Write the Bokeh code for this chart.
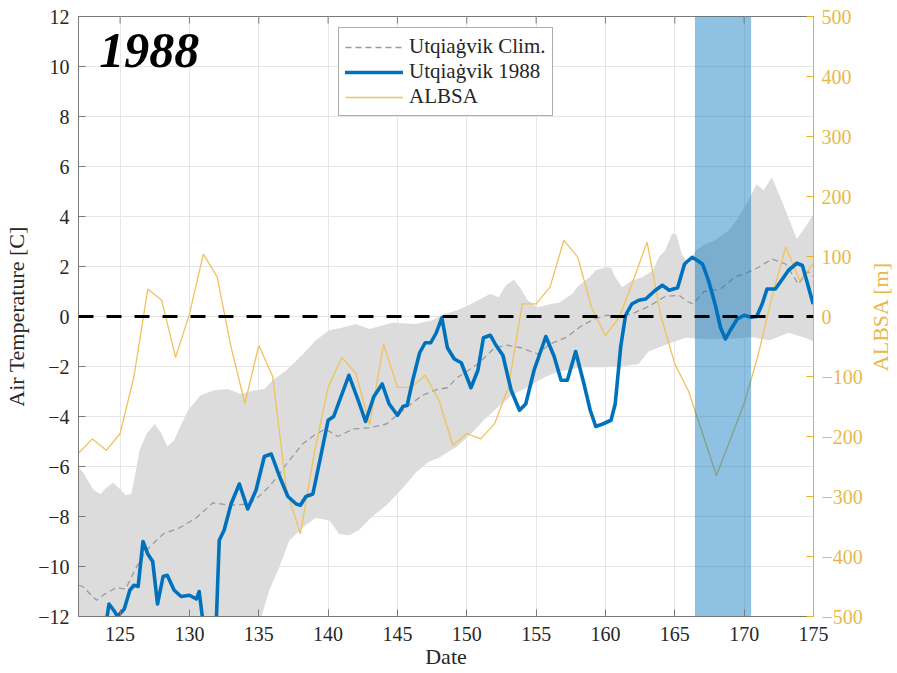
import math
from bokeh.plotting import figure
from bokeh.layouts import row
from bokeh.models import (Range1d, LinearAxis, Span, Legend, LegendItem, Label,
                          FixedTicker)
from bokeh.embed import file_html
from bokeh.resources import INLINE

# ---------------- data ----------------
x_ticks = [125, 130, 135, 140, 145, 150, 155, 160, 165, 170, 175]
y_ticks = [-12, -10, -8, -6, -4, -2, 0, 2, 4, 6, 8, 10, 12]
albsa_ticks = [-500, -400, -300, -200, -100, 0, 100, 200, 300, 400, 500]
x_limits = [122, 175]
temp_limits = [-12, 12]
albsa_limits = [-500, 500]
zero_level = 0
event_days = [166.45, 170.5]

obs_day = [123.9, 124.2, 124.6, 124.8, 125.3, 125.7, 126.0, 126.3, 126.65, 127.0,
           127.35, 127.7, 128.1, 128.4, 128.9, 129.4, 130.0, 130.5, 130.7, 130.95,
           131.3, 131.7, 131.95, 132.15, 132.5, 133.0, 133.6, 134.2, 134.8, 135.4,
           135.9, 136.5, 137.1, 137.7, 138.0, 138.4, 138.9, 139.5, 140.0, 140.4,
           141.0, 141.5, 142.2, 142.7, 143.3, 143.9, 144.4, 145.0, 145.4, 145.7,
           146.1, 146.6, 147.0, 147.4, 147.8, 148.2, 148.6, 149.1, 149.6, 150.3,
           150.8, 151.2, 151.7, 152.1, 152.6, 153.2, 153.8, 154.25, 154.85, 155.7,
           156.3, 156.8, 157.25, 157.85, 158.45, 158.9, 159.3, 159.8, 160.4, 160.7,
           161.1, 161.45, 161.9, 162.4, 162.9, 163.6, 164.1, 164.6, 165.2, 165.7,
           166.25, 166.6, 167.0, 167.45, 167.9, 168.3, 168.65, 169.0, 169.5, 170.0,
           170.5, 170.9, 171.3, 171.65, 172.25, 172.7, 173.2, 173.8, 174.2, 174.5,
           174.95]
obs_temp = [-12.6, -11.5, -11.8, -12.0, -11.7, -10.95, -10.75, -10.8, -9.0, -9.5,
            -9.8, -11.5, -10.4, -10.35, -10.95, -11.2, -11.15, -11.3, -11.0, -12.1,
            -13.0, -13.0, -12.0, -8.95, -8.55, -7.5, -6.7, -7.7, -6.95, -5.6,
            -5.5, -6.4, -7.2, -7.5, -7.55, -7.2, -7.1, -5.5, -4.15, -4.0,
            -3.1, -2.35, -3.4, -4.2, -3.2, -2.7, -3.5, -3.95, -3.6, -3.55,
            -2.55, -1.45, -1.05, -1.05, -0.65, -0.05, -1.25, -1.7, -1.85, -2.85,
            -2.15, -0.85, -0.75, -1.15, -1.55, -2.95, -3.75, -3.5, -2.15, -0.8,
            -1.6, -2.55, -2.55, -1.4, -2.7, -3.75, -4.4, -4.3, -4.15, -3.5,
            -1.2, 0.05, 0.5, 0.65, 0.7, 1.05, 1.25, 1.05, 1.15, 2.1,
            2.37, 2.25, 2.1, 1.4, 0.5, -0.45, -0.9, -0.55, -0.1, 0.05,
            -0.03, 0.0, 0.5, 1.1, 1.1, 1.45, 1.85, 2.13, 2.04, 1.45,
            0.55]

clim_day = [122.0, 122.3, 123.3, 123.9, 124.7, 125.4, 126.2, 126.9, 128.1, 129.3,
            130.5, 131.7, 132.9, 134.3, 135.0, 135.75, 136.5, 137.0, 138.15, 139.0,
            139.8, 140.7, 141.8, 143.0, 144.2, 145.5, 146.8, 147.8, 148.6, 149.3,
            150.8, 152.0, 152.9, 153.9, 155.1, 156.0, 157.2, 158.2, 159.2, 160.1,
            161.0, 161.9, 163.1, 164.3, 165.3, 165.9, 166.3, 167.1, 168.3, 169.4,
            170.2, 171.05, 172.0, 173.0, 173.9, 174.6, 175.0]
clim_temp = [-10.75, -10.8, -11.35, -11.1, -10.85, -10.9, -10.0, -9.35, -8.7, -8.45,
             -8.05, -7.45, -7.55, -7.5, -7.2, -6.8, -6.3, -5.9, -5.1, -4.75,
             -4.5, -4.8, -4.5, -4.45, -4.3, -3.7, -3.15, -2.93, -2.85, -2.45,
             -1.9, -1.25, -1.15, -1.25, -1.5, -1.1, -0.83, -0.4, -0.1, 0.05,
             0.0, 0.1, 0.4, 0.8, 0.85, 0.6, 0.5, 1.0, 1.1, 1.6,
             1.75, 1.97, 2.3, 2.1, 1.3, 1.8, 1.6]

upper_day = [122.0, 122.4, 123.1, 123.6, 124.0, 124.5, 124.9, 125.4, 125.8, 126.1,
             126.4, 126.9, 127.5, 128.0, 128.4, 128.9, 129.3, 129.9, 130.8, 131.8,
             132.75, 133.7, 134.7, 135.4, 136.0, 137.0, 138.2, 139.1, 140.1, 141.0,
             142.0, 143.0, 144.6, 146.3, 147.5, 148.4, 149.3, 150.3, 151.2, 151.7,
             152.3, 152.8, 153.4, 153.9, 154.4, 155.1, 156.05, 156.65, 157.6, 158.0,
             158.9, 159.3, 160.0, 160.4, 160.7, 161.2, 161.9, 162.65, 163.4, 163.85,
             164.3, 164.8, 165.1, 165.5, 166.0, 166.5, 167.2, 167.9, 168.9, 169.6,
             170.3, 170.9, 171.4, 172.0, 172.7, 173.3, 173.8, 174.4, 175.0]
upper_temp = [-6.0, -6.3, -6.95, -7.1, -6.85, -6.65, -6.85, -7.15, -7.1, -6.3,
              -5.35, -4.7, -4.3, -4.7, -5.2, -4.95, -4.45, -3.75, -3.15, -2.95,
              -2.9, -3.1, -2.95, -2.9, -2.55, -2.15, -1.5, -0.95, -0.55, -0.45,
              -0.3, -0.5, -0.25, -0.3, -0.15, 0.1, 0.25, 0.5, 0.77, 0.9,
              0.77, 1.24, 1.47, 1.1, 0.64, 0.37, 0.5, 0.55, 0.9, 1.2,
              1.6, 1.85, 1.97, 1.95, 1.57, 1.17, 1.44, 1.57, 1.84, 2.37,
              2.64, 3.3, 3.3, 2.5, 2.1, 2.64, 2.9, 3.05, 3.45, 3.97,
              4.64, 5.3, 5.05, 5.57, 4.64, 3.8, 3.1, 3.57, 4.1]

lower_day = [122.0, 133.0, 134.6, 135.2, 135.75, 136.5, 137.2, 138.15, 139.1, 140.1,
             140.8, 141.5, 142.2, 143.2, 144.3, 145.4, 146.4, 147.3, 148.0, 148.7,
             149.3, 150.3, 151.2, 152.4, 153.4, 154.4, 155.6, 156.5, 157.5, 158.45,
             159.9, 161.1, 162.4, 163.1, 164.5, 165.8, 167.0, 168.9, 170.6, 171.8,
             173.2, 174.4, 175.0]
lower_temp = [-14.5, -14.5, -12.8, -12.0, -10.96, -10.0, -8.96, -8.45, -8.05, -8.16,
              -8.7, -8.75, -8.55, -8.0, -7.5, -6.85, -6.2, -5.8, -5.65, -5.4,
              -5.2, -4.7, -4.16, -3.55, -3.1, -2.83, -2.43, -2.23, -2.1, -2.03,
              -2.03, -2.0, -1.9, -1.4, -1.1, -0.85, -0.9, -0.9, -0.83, -0.96,
              -0.65, -0.85, -1.0]

albsa_day = [122, 123, 124, 125, 126, 127, 128, 129, 130, 131, 132, 133, 134, 135,
             136, 137, 138, 139, 140, 141, 142, 143, 144, 145, 146, 147, 148, 149,
             150, 151, 152, 153, 154, 155, 156, 157, 158, 159, 160, 161, 162, 163,
             164, 165, 166, 167, 168, 169, 170, 171, 172, 173, 174, 175]
albsa_m = [-228, -204, -223, -195, -100, 46, 27, -68, 4, 104, 66, -51, -145, -48,
           -100, -290, -362, -228, -118, -68, -95, -180, -46, -118, -118, -98, -140, -215,
           -195, -204, -179, -118, 21, 21, 49, 127, 99, 15, -32, -1, 60, 124,
           0, -79, -125, -195, -265, -205, -145, -65, 32, 116, 60, 88]

# ---------------- styles ----------------
SERIF = "Liberation Serif"
DARK = "#262626"
AXGRAY = "#7a7a7a"
GOLD = "#EDB120"
GOLD_TXT = "#E6B94A"
BLUE = "#0072BD"
TOP_TICK_LEN = 0.28          # in temperature units (about 7 px)
MAIN_W, SIDE_W, H = 866, 31, 673
B_LEFT, B_RIGHT, B_TOP, B_BOTTOM = 78, 53, 16, 57
SIDE_LABEL_X = 14

p = figure(width=MAIN_W, height=H,
           x_range=Range1d(*x_limits), y_range=Range1d(*temp_limits),
           output_backend="svg", toolbar_location=None,
           min_border_left=B_LEFT, min_border_right=B_RIGHT,
           min_border_top=B_TOP, min_border_bottom=B_BOTTOM,
           background_fill_color="white", border_fill_color="white")
p.extra_y_ranges = {"albsa": Range1d(*albsa_limits)}

p.outline_line_color = AXGRAY
p.outline_line_width = 1

# grid
p.xgrid.ticker = FixedTicker(ticks=x_ticks)
p.ygrid.ticker = FixedTicker(ticks=y_ticks)
p.grid.grid_line_color = "#e6e6e6"
p.grid.grid_line_width = 1

xa = p.xaxis[0]
xa.ticker = FixedTicker(ticks=x_ticks)
xa.axis_label = "Date"
ya = p.yaxis[0]
ya.ticker = FixedTicker(ticks=y_ticks)
ya.axis_label = "Air Temperature [C]"

for ax in (xa, ya):
    ax.axis_line_color = AXGRAY
    ax.major_tick_line_color = AXGRAY
    ax.major_tick_in = 7
    ax.major_tick_out = 0
    ax.minor_tick_line_color = None
    ax.major_label_text_font = SERIF
    ax.major_label_text_font_size = "20px"
    ax.major_label_text_color = DARK
    ax.axis_label_text_font = SERIF
    ax.axis_label_text_font_size = "22px"
    ax.axis_label_text_font_style = "normal"
    ax.axis_label_text_color = DARK

xa.major_label_standoff = 10
xa.axis_label_standoff = 0
ya.major_label_standoff = 9
ya.axis_label_standoff = 6

# right axis (its title is drawn in the narrow side panel so it reads bottom-to-top)
ra = LinearAxis(y_range_name="albsa", ticker=FixedTicker(ticks=albsa_ticks))
ra.axis_line_color = GOLD
ra.major_tick_line_color = GOLD
ra.major_tick_in = 7
ra.major_tick_out = 0
ra.minor_tick_line_color = None
ra.major_label_text_font = SERIF
ra.major_label_text_font_size = "20px"
ra.major_label_text_color = GOLD_TXT
ra.major_label_standoff = 8
p.add_layout(ra, "right")

# climatological spread band
band_x = upper_day + lower_day[::-1]
band_y = upper_temp + lower_temp[::-1]
p.patch(band_x, band_y, fill_color="#dcdcdc", fill_alpha=1.0, line_color=None)

# climatology dashed
r_clim = p.line(clim_day, clim_temp, line_color="#9a9a9a", line_width=1.3,
                line_dash="6 4")

# ALBSA
r_albsa = p.line(albsa_day, albsa_m, y_range_name="albsa", line_color="#EFC35A",
                 line_width=1.3)

# event band
p.quad(left=[event_days[0]], right=[event_days[1]],
       bottom=[temp_limits[0]], top=[temp_limits[1]],
       fill_color=BLUE, fill_alpha=0.44, line_color=None)

# observed 1988
r_obs = p.line(obs_day, obs_temp, line_color=BLUE, line_width=3.6,
               line_join="round", line_cap="round")

# zero line
p.add_layout(Span(location=zero_level, dimension="width", line_color="black",
                  line_width=3, line_dash="15 13"))

# top-edge ticks (box style)
p.segment(x0=x_ticks, y0=[temp_limits[1]] * len(x_ticks),
          x1=x_ticks, y1=[temp_limits[1] - TOP_TICK_LEN] * len(x_ticks),
          line_color=AXGRAY, line_width=1)

# year label
p.add_layout(Label(x=123.5, y=10.64, text="1988", text_font=SERIF,
                   text_font_style="bold italic", text_font_size="50px",
                   text_baseline="alphabetic", text_color="black"))

legend = Legend(items=[LegendItem(label="Utqiaġvik Clim.", renderers=[r_clim]),
                       LegendItem(label="Utqiaġvik 1988", renderers=[r_obs]),
                       LegendItem(label="ALBSA", renderers=[r_albsa])],
                location=(260, 500))
legend.label_text_font = SERIF
legend.label_text_font_size = "21px"
legend.label_text_color = DARK
legend.glyph_width = 58
legend.glyph_height = 20
legend.label_height = 20
legend.label_standoff = 6
legend.spacing = 0
legend.padding = 6
legend.margin = 0
legend.border_line_color = "#5a5a5a"
legend.border_line_width = 1
legend.background_fill_color = "white"
legend.background_fill_alpha = 1.0
p.add_layout(legend)

# narrow side panel holding the right-axis title
side = figure(width=SIDE_W, height=H,
              x_range=Range1d(0, SIDE_W), y_range=Range1d(*temp_limits),
              output_backend="svg", toolbar_location=None,
              x_axis_location=None, y_axis_location=None,
              min_border_left=0, min_border_right=0,
              min_border_top=B_TOP, min_border_bottom=B_BOTTOM,
              background_fill_color="white", border_fill_color="white")
side.outline_line_color = None
side.grid.visible = False
side.add_layout(Label(x=SIDE_LABEL_X, y=zero_level, text="ALBSA [m]", angle=math.pi / 2,
                      text_align="center", text_baseline="middle",
                      text_font=SERIF, text_font_size="22px", text_color=GOLD_TXT))

layout = row(p, side)
open("out.html", "w").write(file_html(layout, INLINE))
